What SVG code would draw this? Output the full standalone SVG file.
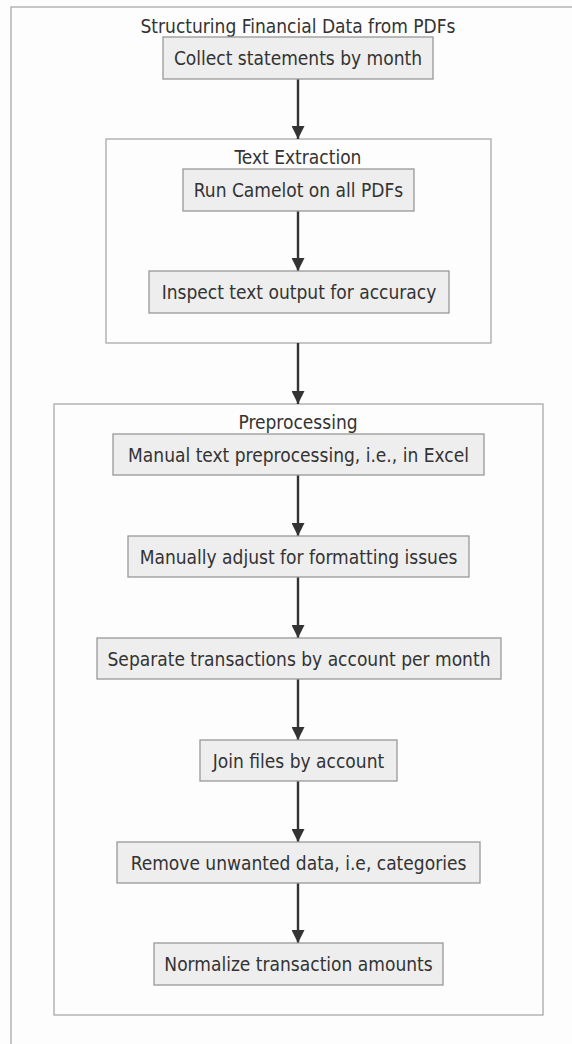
<svg xmlns="http://www.w3.org/2000/svg" width="572" height="1044" viewBox="0 0 572 1044">
<defs>
<style>
text{font-family:"DejaVu Sans Condensed","DejaVu Sans",sans-serif;font-stretch:condensed;font-size:19px;fill:#333;text-anchor:middle;dominant-baseline:central}
.cl{fill:#fdfdfd;stroke:#aaa;stroke-width:1.3}
.nd rect{fill:#eee;stroke:#999;stroke-width:1.3}
.ed{stroke:#333;stroke-width:2.4;fill:none;marker-end:url(#ah)}
</style>
<marker id="ah" viewBox="0 0 10 10" refX="10" refY="5" markerWidth="13" markerHeight="13" orient="auto" markerUnits="userSpaceOnUse">
<path d="M0,0L10,5L0,10z" fill="#333"/>
</marker>
</defs>
<rect width="572" height="1044" fill="#fdfdfd"/>
<g id="outer">
<rect class="cl" x="11" y="7" width="600" height="1100"/>
<text x="298" y="26">Structuring Financial Data from PDFs</text>
</g>
<g id="textExtraction">
<rect class="cl" x="106" y="139" width="385" height="204"/>
<text x="298" y="157">Text Extraction</text>
</g>
<g id="preprocessing">
<rect class="cl" x="54" y="404" width="489" height="611"/>
<text x="298" y="422">Preprocessing</text>
</g>
<g id="edges">
<path class="ed" d="M298,79V139"/>
<path class="ed" d="M298,211V271"/>
<path class="ed" d="M298,343V404"/>
<path class="ed" d="M298,475V536"/>
<path class="ed" d="M298,577V638"/>
<path class="ed" d="M298,679V740"/>
<path class="ed" d="M298,781V842"/>
<path class="ed" d="M298,883V943"/>
</g>
<g id="n1" class="nd"><rect x="163" y="37" width="270" height="42"/><text x="298" y="58">Collect statements by month</text></g>
<g id="n2" class="nd"><rect x="183" y="169" width="231" height="42"/><text x="298.5" y="190">Run Camelot on all PDFs</text></g>
<g id="n3" class="nd"><rect x="149" y="271" width="300" height="42"/><text x="299" y="292">Inspect text output for accuracy</text></g>
<g id="n4" class="nd"><rect x="113" y="434" width="371" height="41"/><text x="298.5" y="455">Manual text preprocessing, i.e., in Excel</text></g>
<g id="n5" class="nd"><rect x="128" y="536" width="341" height="41"/><text x="298.5" y="557">Manually adjust for formatting issues</text></g>
<g id="n6" class="nd"><rect x="97" y="638" width="404" height="41"/><text x="299" y="659">Separate transactions by account per month</text></g>
<g id="n7" class="nd"><rect x="200" y="740" width="197" height="41"/><text x="298.5" y="761">Join files by account</text></g>
<g id="n8" class="nd"><rect x="117" y="842" width="363" height="41"/><text x="298.5" y="863">Remove unwanted data, i.e, categories</text></g>
<g id="n9" class="nd"><rect x="154" y="943" width="289" height="42"/><text x="298.5" y="964">Normalize transaction amounts</text></g>
</svg>
